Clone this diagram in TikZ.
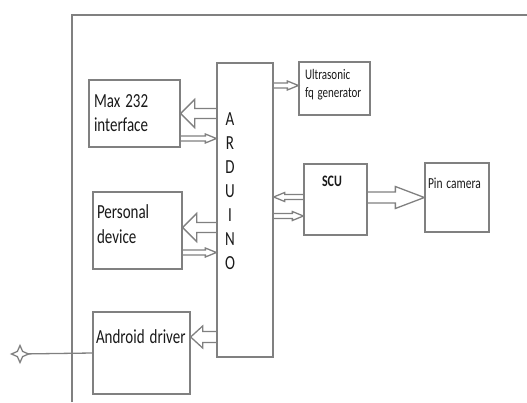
\documentclass[tikz,border=0pt]{standalone}
\usepackage{fontspec}
\usepackage{graphicx}
\setmainfont{Carlito}
\usetikzlibrary{calc,shapes.geometric}

\newcommand\tallfont[1]{\scalebox{1}[1.33]{#1}}

\tikzset{
  hollow/.style n args={3}{to path={
    let \p1=(\tikztostart), \p2=(\tikztotarget), \n1={sign(\x2-\x1)} in
    (\x1,\y1+#1) -- (\x2-\n1*#3,\y1+#1) -- (\x2-\n1*#3,\y1+#2) -- (\x2,\y1)
    -- (\x2-\n1*#3,\y1-#2) -- (\x2-\n1*#3,\y1-#1) -- (\x1,\y1-#1)}},
}

\begin{document}
\begin{tikzpicture}[
  x=1pt,y=-1pt,
  line/.style={draw=black!50,line width=1.3pt},
  box/.style={line,inner ysep=0pt,align=left,text=black!90},
  bigtext/.style={font=\fontsize{15}{24}\selectfont},
  smalltext/.style={font=\fontsize{11}{18}\selectfont},
  bigarrow/.style={line,hollow={5pt}{14pt}{14pt}},
  midarrow/.style={line,hollow={5.5pt}{11pt}{12pt}},
  longarrow/.style={line,hollow={5.5pt}{11pt}{29pt}},
  thinarrow/.style={line,hollow={2.5pt}{4.5pt}{11pt}},
]
\useasboundingbox (0,0) rectangle (527,402);

% outer frame
\draw[line] (72,402) -- (72,15) -- (527,15);

\node[box,bigtext,inner xsep=5pt,text width=81pt,text height=27pt,text depth=40pt] (max) at (134.5,113.5)
  {\tallfont{Max 232}\\\tallfont{interface}};
\node[box,font=\fontsize{15}{25}\selectfont,inner xsep=4pt,text width=81pt,text height=26pt,text depth=51pt] (pers) at (137.5,230.5)
  {\tallfont{Personal}\\\tallfont{device}};
\node[box,bigtext,inner xsep=3pt,text width=91pt,text height=31pt,text depth=51pt] (andr) at (141.5,353)
  {\tallfont{Android driver}};
\node[box,bigtext,inner xsep=0pt,text width=56pt,text height=62pt,text depth=232pt] (ard) at (245,210)
  {\parbox[t]{26pt}{\centering \tallfont{A}\\\tallfont{R}\\\tallfont{D}\\\tallfont{U}\\\tallfont{I}\\\tallfont{N}\\\tallfont{O}}};
\node[box,smalltext,inner xsep=6pt,text width=59pt,text height=17pt,text depth=36pt] (ultra) at (334.5,88.5)
  {\tallfont{Ultrasonic}\\\tallfont{fq generator}};
\node[box,font=\fontsize{12}{14}\selectfont\bfseries,inner xsep=18pt,text width=27pt,text height=22pt,text depth=49pt] (scu) at (335.5,199.5)
  {\tallfont{SCU}};
\node[box,font=\fontsize{11.5}{14}\selectfont,inner xsep=3pt,text width=58pt,text height=25pt,text depth=44pt] (pin) at (457,197.5)
  {\tallfont{Pin camera}};

% block arrows
\draw[bigarrow] (ard.west |- max.east) to (max.east);
\draw[thinarrow] ($(max.east)+(0,25)$) to ($(max.east -| ard.west)+(0,25)$);
\draw[bigarrow] ($(ard.west |- pers.east)+(0,-3)$) to ($(pers.east)+(0,-3)$);
\draw[thinarrow] ($(pers.east)+(0,22)$) to ($(pers.east -| ard.west)+(0,22)$);
\draw[midarrow] ($(ard.west |- andr.east)+(0,-16)$) to ($(andr.east)+(0,-16)$);
\draw[thinarrow] ($(ard.east |- ultra.west)+(0,-3)$) to ($(ultra.west)+(0,-3)$);
\draw[thinarrow] ($(scu.west)+(0,-2.5)$) to ($(scu.west -| ard.east)+(0,-2.5)$);
\draw[thinarrow] ($(ard.east |- scu.west)+(0,16.5)$) to ($(scu.west)+(0,16.5)$);
\draw[longarrow] (scu.east |- pin.west) to (pin.west);

% input plug
\coordinate (jack) at (20,354);
\draw[line] (jack) -- (andr.west);
\node[line,star,star points=4,star point ratio=2.3,minimum size=17pt,inner sep=0pt,fill=white] (plug) at (jack) {};
\end{tikzpicture}
\end{document}
